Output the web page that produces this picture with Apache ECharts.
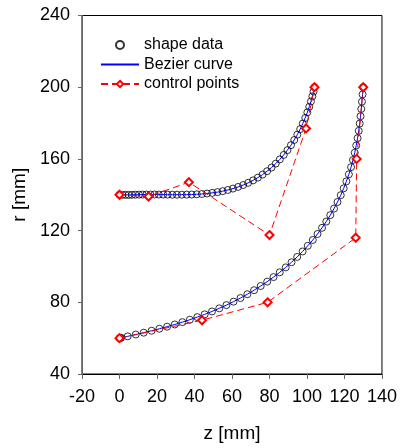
<!DOCTYPE html>
<html>
<head>
<meta charset="utf-8">
<script src="https://cdn.jsdelivr.net/npm/echarts@6/dist/echarts.min.js"></script>
<style>html,body{margin:0;padding:0;background:#fff}#c{width:400px;height:448px}</style>
</head>
<body>
<div id="c"></div>
<script>
// Upper shape: shape data (z, r)
var upperShapeZ = [0,1.58,3.21,4.90,6.65,8.48,10.37,12.34,14.38,16.50,18.69,20.95,23.29,25.68,28.14,30.66,33.23,35.85,38.52,41.21,43.94,46.69,49.46,52.24,55.01,57.78,60.53,63.27,65.97,68.63,71.24,73.80,76.30,78.73,81.08,83.34,85.52,87.60,89.58,91.45,93.21,94.85,96.38,97.77,99.05,100.19,101.21,102.10,102.86,103.49,104];
var upperShapeR = [140,139.93,139.92,139.93,139.97,140.02,140.06,140.10,140.12,140.13,140.13,140.11,140.09,140.06,140.03,140.02,140.02,140.06,140.13,140.25,140.43,140.69,141.03,141.46,142.00,142.66,143.44,144.36,145.42,146.64,148.02,149.55,151.26,153.13,155.16,157.36,159.72,162.23,164.88,167.66,170.56,173.55,176.62,179.73,182.86,185.98,189.06,192.04,194.89,197.56,200];
// Lower shape: shape data (z, r)
var lowerShapeZ = [0,0.4,0.9,4.37,8.67,12.92,17.12,21.27,25.39,29.47,33.52,37.53,41.50,45.45,49.35,53.21,57.03,60.81,64.53,68.19,71.79,75.32,78.78,82.16,85.46,88.66,91.76,94.77,97.66,100.43,103.09,105.62,108.02,110.29,112.43,114.43,116.28,118.00,119.58,121.02,122.33,123.50,124.54,125.47,126.27,126.98,127.58,128.11,128.56,128.96,129.32,129.66,130];
var lowerShapeR = [60,60.1,60.2,61.00,62.02,63.05,64.12,65.24,66.40,67.63,68.93,70.29,71.74,73.28,74.90,76.62,78.44,80.36,82.38,84.51,86.74,89.08,91.52,94.07,96.73,99.49,102.35,105.31,108.37,111.53,114.78,118.11,121.54,125.04,128.62,132.27,135.98,139.76,143.60,147.48,151.41,155.39,159.39,163.43,167.48,171.55,175.64,179.72,183.81,187.88,191.94,195.99,200];
// Control points
var upperCtrlZ = [0,15.5,37,80,99.5,104];
var upperCtrlR = [140,139,147,117.5,177,200];
var lowerCtrlZ = [0,44,79,126,126.5,130];
var lowerCtrlR = [60,70,80,116,160,200];
// Axis ticks
var xTicks = [-20,0,20,40,60,80,100,120,140];
var yTicks = [40,80,120,160,200,240];

function pairs(zs, rs){ return zs.map(function(z,i){ return [z, rs[i]]; }); }

var FONT = 'Liberation Sans, Arial, sans-serif';
var chart = echarts.init(document.getElementById('c'), null, {renderer:'canvas'});
var shapeStyle = {symbol:'circle', symbolSize:7, itemStyle:{color:'rgba(0,0,0,0)', borderColor:'#000', borderWidth:1}};
var curveStyle = {showSymbol:false, symbol:'none', lineStyle:{color:'#0000ff', width:1}, itemStyle:{color:'rgba(0,0,0,0)'}};
var ctrlStyle = {symbol:'emptyDiamond', symbolSize:8, lineStyle:{color:'#ff0000', width:1, type:[7,4]}, itemStyle:{color:'#ff0000', borderColor:'#ff0000', borderWidth:1}};

function mk(base, extra){ var o = {}; for (var k in base) o[k]=base[k]; for (var k2 in extra) o[k2]=extra[k2]; return o; }

chart.setOption({
  animation:false,
  backgroundColor:'#fff',
  textStyle:{fontFamily:FONT},
  grid:{left:82, right:17, top:15.5, bottom:66, show:true, borderColor:'#000', borderWidth:1},
  legend:{
    orient:'vertical', left:100, top:37, padding:0, itemWidth:38, itemHeight:8, itemGap:3.5,
    textStyle:{fontSize:16, color:'#000', fontFamily:FONT},
    data:['shape data','Bezier curve','control points']
  },
  xAxis:{
    type:'value', min:xTicks[0], max:xTicks[xTicks.length-1], interval:20,
    name:'z [mm]', nameLocation:'middle', nameGap:50,
    nameTextStyle:{fontSize:19, color:'#000', fontFamily:FONT},
    axisLine:{show:true, onZero:false, lineStyle:{color:'#000', width:1}},
    axisTick:{show:true, length:5, lineStyle:{color:'#666'}},
    axisLabel:{fontSize:18, color:'#000', margin:14, fontFamily:FONT},
    splitLine:{show:false}
  },
  yAxis:{
    type:'value', min:yTicks[0], max:yTicks[yTicks.length-1], interval:40,
    name:'r [mm]', nameLocation:'middle', nameGap:50, nameRotate:90,
    nameTextStyle:{fontSize:19, color:'#000', fontFamily:FONT},
    axisLine:{show:true, onZero:false, lineStyle:{color:'#666', width:1}},
    axisTick:{show:true, length:4, lineStyle:{color:'#666'}},
    axisLabel:{fontSize:18, color:'#000', margin:12, fontFamily:FONT},
    splitLine:{show:false}
  },
  series:[
    mk(shapeStyle, {name:'shape data', type:'scatter', data:pairs(upperShapeZ, upperShapeR), z:2}),
    mk(shapeStyle, {name:'shape data', type:'scatter', data:pairs(lowerShapeZ, lowerShapeR), z:2}),
    mk(curveStyle, {name:'Bezier curve', type:'line', data:pairs(upperShapeZ, upperShapeR), z:3}),
    mk(curveStyle, {name:'Bezier curve', type:'line', data:pairs(lowerShapeZ, lowerShapeR), z:3}),
    mk(ctrlStyle, {name:'control points', type:'line', data:pairs(upperCtrlZ, upperCtrlR), z:4}),
    mk(ctrlStyle, {name:'control points', type:'line', data:pairs(lowerCtrlZ, lowerCtrlR), z:4})
  ]
});
</script>
</body>
</html>
